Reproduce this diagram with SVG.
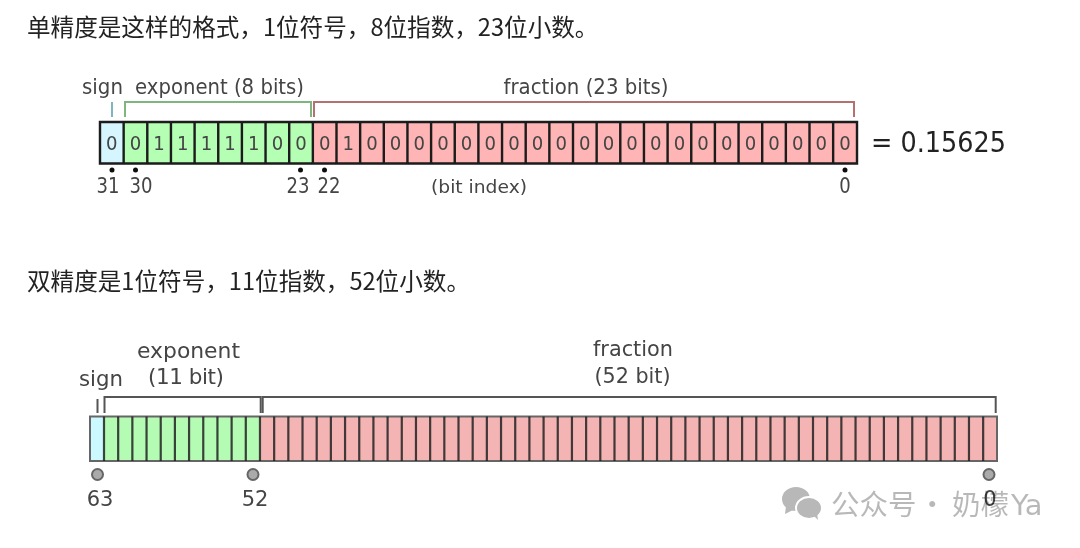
<svg xmlns="http://www.w3.org/2000/svg" width="1080" height="548" viewBox="0 0 1080 548">
<defs><filter id="soft" x="0" y="0" width="100%" height="100%"><feGaussianBlur stdDeviation="0.45"/></filter></defs>
<style>
text{font-family:"DejaVu Sans",sans-serif;fill:#444}
.h{font-family:"Noto Sans CJK SC","Noto Sans",sans-serif;font-size:23.6px;fill:#222}
.l{font-size:21.5px;text-anchor:middle}
.d{font-size:20px;text-anchor:middle}
.s{font-size:21px;text-anchor:middle}
.b{fill:none;stroke-width:2}
.c1{stroke:#1a1a1a;stroke-width:2.4;fill:none}
.c2{stroke:#222;stroke-opacity:.85;stroke-width:2.2;fill:none}
.w{font-family:"Noto Sans CJK SC","Noto Sans",sans-serif;font-size:28.5px;fill:#000;fill-opacity:.28}
.wi{fill:#b8b8b8}
</style>
<rect width="1080" height="548" fill="#fff"/>
<g filter="url(#soft)">
<text class="h" x="27" y="36">单精度是这样的格式，1位符号，8位指数，23位小数。</text>
<text class="h" x="27" y="290">双精度是1位符号，11位指数，52位小数。</text>

<g id="single-labels">
<text class="l" x="102.500" y="94" textLength="41" lengthAdjust="spacingAndGlyphs">sign</text>
<text class="l" x="219.500" y="94" textLength="169" lengthAdjust="spacingAndGlyphs">exponent (8 bits)</text>
<text class="l" x="586" y="94" textLength="165" lengthAdjust="spacingAndGlyphs">fraction (23 bits)</text>
</g>
<g id="single-brackets">
<path class="b" stroke="#7fb5c0" d="M112 102V117"/>
<path class="b" stroke="#7fb57f" d="M125 117V102H311V117"/>
<path class="b" stroke="#b56f6f" d="M314 117V102H854V117"/>
</g>
<g id="single-register">
<rect x="100" y="122" width="24" height="41.500" fill="#d5f5ff"/>
<rect x="124" y="122" width="189" height="41.500" fill="#b5ffb5"/>
<rect x="313" y="122" width="544" height="41.500" fill="#ffb5b5"/>
<path class="c1" d="M100 122H857V163.500H100Z"/>
<path class="c1" d="M123.650 122v41.500m23.650-41.500v41.500m23.650-41.500v41.500m23.650-41.500v41.500m23.650-41.500v41.500m23.650-41.500v41.500m23.650-41.500v41.500m23.650-41.500v41.500m23.650-41.500v41.500m23.650-41.500v41.500m23.650-41.500v41.500m23.650-41.500v41.500m23.650-41.500v41.500m23.650-41.500v41.500m23.650-41.500v41.500m23.650-41.500v41.500m23.650-41.500v41.500m23.650-41.500v41.500m23.650-41.500v41.500m23.650-41.500v41.500m23.650-41.500v41.500m23.650-41.500v41.500m23.650-41.500v41.500m23.650-41.500v41.500m23.650-41.500v41.500m23.650-41.500v41.500m23.650-41.500v41.500m23.650-41.500v41.500m23.650-41.500v41.500m23.650-41.500v41.500m23.650-41.500v41.500"/>
<g id="single-bits">
<text class="d" x="111.800" y="150" textLength="11.500" lengthAdjust="spacingAndGlyphs">0</text><text class="d" x="135.500" y="150" textLength="11.500" lengthAdjust="spacingAndGlyphs">0</text><text class="d" x="159.100" y="150" textLength="11.500" lengthAdjust="spacingAndGlyphs">1</text><text class="d" x="182.800" y="150" textLength="11.500" lengthAdjust="spacingAndGlyphs">1</text>
<text class="d" x="206.400" y="150" textLength="11.500" lengthAdjust="spacingAndGlyphs">1</text><text class="d" x="230.100" y="150" textLength="11.500" lengthAdjust="spacingAndGlyphs">1</text><text class="d" x="253.700" y="150" textLength="11.500" lengthAdjust="spacingAndGlyphs">1</text><text class="d" x="277.400" y="150" textLength="11.500" lengthAdjust="spacingAndGlyphs">0</text>
<text class="d" x="301" y="150" textLength="11.500" lengthAdjust="spacingAndGlyphs">0</text><text class="d" x="324.700" y="150" textLength="11.500" lengthAdjust="spacingAndGlyphs">0</text><text class="d" x="348.300" y="150" textLength="11.500" lengthAdjust="spacingAndGlyphs">1</text><text class="d" x="372" y="150" textLength="11.500" lengthAdjust="spacingAndGlyphs">0</text>
<text class="d" x="395.600" y="150" textLength="11.500" lengthAdjust="spacingAndGlyphs">0</text><text class="d" x="419.300" y="150" textLength="11.500" lengthAdjust="spacingAndGlyphs">0</text><text class="d" x="442.900" y="150" textLength="11.500" lengthAdjust="spacingAndGlyphs">0</text><text class="d" x="466.600" y="150" textLength="11.500" lengthAdjust="spacingAndGlyphs">0</text>
<text class="d" x="490.200" y="150" textLength="11.500" lengthAdjust="spacingAndGlyphs">0</text><text class="d" x="513.900" y="150" textLength="11.500" lengthAdjust="spacingAndGlyphs">0</text><text class="d" x="537.500" y="150" textLength="11.500" lengthAdjust="spacingAndGlyphs">0</text><text class="d" x="561.200" y="150" textLength="11.500" lengthAdjust="spacingAndGlyphs">0</text>
<text class="d" x="584.800" y="150" textLength="11.500" lengthAdjust="spacingAndGlyphs">0</text><text class="d" x="608.500" y="150" textLength="11.500" lengthAdjust="spacingAndGlyphs">0</text><text class="d" x="632.100" y="150" textLength="11.500" lengthAdjust="spacingAndGlyphs">0</text><text class="d" x="655.800" y="150" textLength="11.500" lengthAdjust="spacingAndGlyphs">0</text>
<text class="d" x="679.400" y="150" textLength="11.500" lengthAdjust="spacingAndGlyphs">0</text><text class="d" x="703.100" y="150" textLength="11.500" lengthAdjust="spacingAndGlyphs">0</text><text class="d" x="726.700" y="150" textLength="11.500" lengthAdjust="spacingAndGlyphs">0</text><text class="d" x="750.400" y="150" textLength="11.500" lengthAdjust="spacingAndGlyphs">0</text>
<text class="d" x="774" y="150" textLength="11.500" lengthAdjust="spacingAndGlyphs">0</text><text class="d" x="797.700" y="150" textLength="11.500" lengthAdjust="spacingAndGlyphs">0</text><text class="d" x="821.300" y="150" textLength="11.500" lengthAdjust="spacingAndGlyphs">0</text><text class="d" x="845" y="150" textLength="11.500" lengthAdjust="spacingAndGlyphs">0</text>
</g>
</g>
<g id="single-index">
<circle cx="112" cy="170" r="2.500" fill="#111"/><circle cx="135.500" cy="170" r="2.500" fill="#111"/><circle cx="300.500" cy="170" r="2.500" fill="#111"/><circle cx="324.500" cy="170" r="2.500" fill="#111"/><circle cx="845" cy="170" r="2.500" fill="#111"/>
<text class="s" x="108" y="193" textLength="23" lengthAdjust="spacingAndGlyphs">31</text><text class="s" x="141" y="193" textLength="23" lengthAdjust="spacingAndGlyphs">30</text><text class="s" x="298" y="193" textLength="23" lengthAdjust="spacingAndGlyphs">23</text><text class="s" x="329" y="193" textLength="23" lengthAdjust="spacingAndGlyphs">22</text>
<text class="s" x="479" y="193" style="font-size:18.500px" textLength="96" lengthAdjust="spacingAndGlyphs">(bit index)</text><text class="s" x="845" y="193" textLength="11.500" lengthAdjust="spacingAndGlyphs">0</text>
</g>
<text x="871" y="152" style="font-size:28px;fill:#222" textLength="135" lengthAdjust="spacingAndGlyphs">= 0.15625</text>

<g id="double-labels">
<text class="l" x="101" y="386" textLength="44" lengthAdjust="spacingAndGlyphs">sign</text>
<text class="l" x="188.500" y="358" style="font-size:22px" textLength="103" lengthAdjust="spacingAndGlyphs">exponent</text>
<text class="l" x="186" y="384" textLength="76" lengthAdjust="spacing">(11 bit)</text>
<text class="l" x="633" y="356" textLength="80" lengthAdjust="spacingAndGlyphs">fraction</text>
<text class="l" x="632.500" y="383" textLength="76" lengthAdjust="spacingAndGlyphs">(52 bit)</text>
</g>
<g id="double-brackets">
<path class="b" stroke="#555" d="M97.500 399V413"/>
<path class="b" stroke="#555" d="M104.500 413V397H260.700V413"/>
<path class="b" stroke="#555" d="M262.700 413V397H995.700V413"/>
</g>
<g id="double-register">
<rect x="90" y="416.500" width="14" height="44.500" fill="#ccf8ff"/>
<rect x="104" y="416.500" width="156.500" height="44.500" fill="#b4fbb4"/>
<rect x="260.500" y="416.500" width="736.500" height="44.500" fill="#f4b4b4"/>
<path d="M90 416.500H997V461H90Z" fill="none" stroke="#666" stroke-width="2"/>
<path class="c2" d="M104 416.500v44.500
m14.180-44.500v44.500m14.180-44.500v44.500m14.180-44.500v44.500m14.180-44.500v44.500m14.180-44.500v44.500m14.180-44.500v44.500m14.180-44.500v44.500m14.180-44.500v44.500m14.180-44.500v44.500m14.180-44.500v44.500
m14.180-44.500v44.500m14.180-44.500v44.500m14.180-44.500v44.500m14.180-44.500v44.500m14.180-44.500v44.500m14.180-44.500v44.500m14.180-44.500v44.500m14.180-44.500v44.500m14.180-44.500v44.500m14.180-44.500v44.500
m14.180-44.500v44.500m14.180-44.500v44.500m14.180-44.500v44.500m14.180-44.500v44.500m14.180-44.500v44.500m14.180-44.500v44.500m14.180-44.500v44.500m14.180-44.500v44.500m14.180-44.500v44.500m14.180-44.500v44.500
m14.180-44.500v44.500m14.180-44.500v44.500m14.180-44.500v44.500m14.180-44.500v44.500m14.180-44.500v44.500m14.180-44.500v44.500m14.180-44.500v44.500m14.180-44.500v44.500m14.180-44.500v44.500m14.180-44.500v44.500
m14.180-44.500v44.500m14.180-44.500v44.500m14.180-44.500v44.500m14.180-44.500v44.500m14.180-44.500v44.500m14.180-44.500v44.500m14.180-44.500v44.500m14.180-44.500v44.500m14.180-44.500v44.500m14.180-44.500v44.500
m14.180-44.500v44.500m14.180-44.500v44.500m14.180-44.500v44.500m14.180-44.500v44.500m14.180-44.500v44.500m14.180-44.500v44.500m14.180-44.500v44.500m14.180-44.500v44.500m14.180-44.500v44.500m14.180-44.500v44.500
m14.180-44.500v44.500m14.180-44.500v44.500"/>
</g>
<g id="double-index">
<circle cx="97.500" cy="474.500" r="5.500" fill="#aaa" stroke="#666" stroke-width="2"/><circle cx="253" cy="474.500" r="5.500" fill="#aaa" stroke="#666" stroke-width="2"/><circle cx="989" cy="474.500" r="5.500" fill="#aaa" stroke="#666" stroke-width="2"/>
<text class="s" x="100" y="506">63</text><text class="s" x="255" y="506">52</text>
<text class="s" x="990" y="506">0</text>
</g>
<g id="watermark">
<ellipse class="wi" cx="796" cy="499" rx="14" ry="12"/><path class="wi" d="M786 506L785 514L793 510Z"/>
<ellipse cx="809" cy="508" rx="13" ry="11" fill="#b8b8b8" stroke="#fff" stroke-width="2"/><path class="wi" d="M814 516L818 520L817 513Z"/>
<text class="w" x="831" y="515">公众号<tspan x="918">·</tspan><tspan x="952">奶檬</tspan><tspan x="1011" style="font-family:'DejaVu Sans',sans-serif;font-size:29px">Ya</tspan></text>
</g>
</g>
</svg>
